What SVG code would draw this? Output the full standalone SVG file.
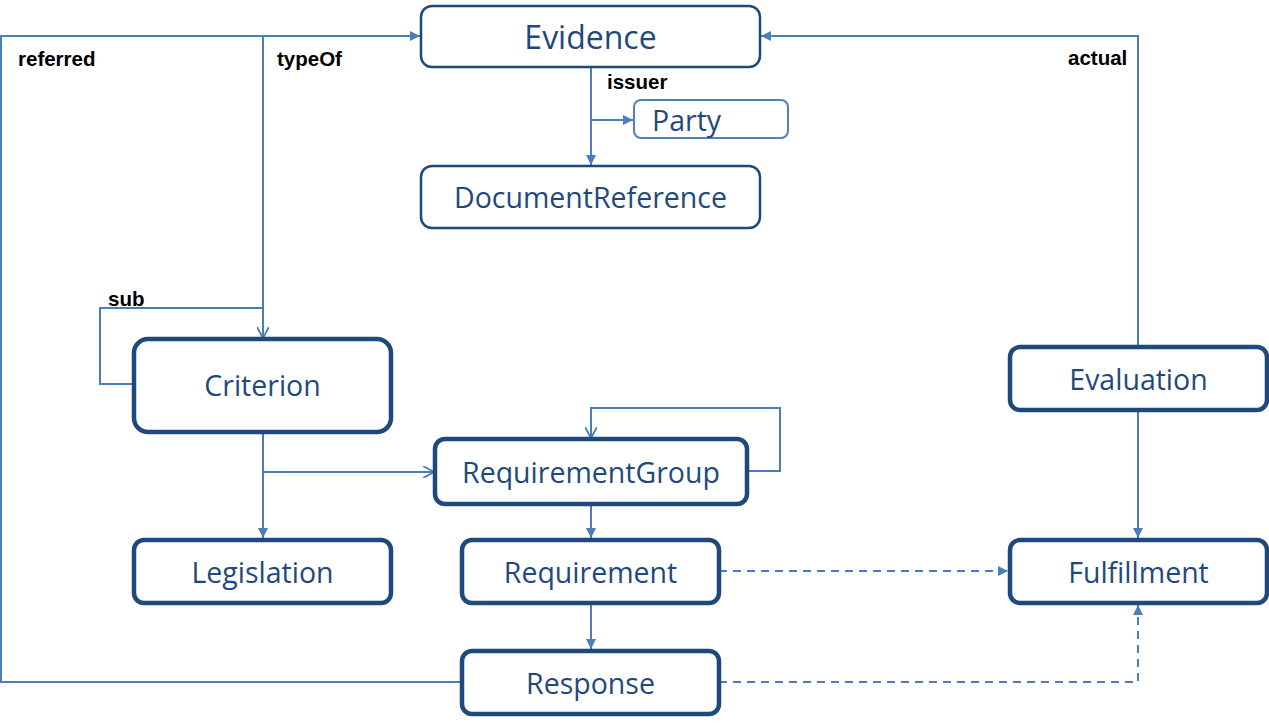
<svg xmlns="http://www.w3.org/2000/svg" width="1269" height="723" viewBox="0 0 1269 723">
<style>
.thin{fill:#fff;stroke:#1f497d;stroke-width:2.5}
.thick{fill:#fff;stroke:#1f497d;stroke-width:4.5}
.party{fill:#fff;stroke:#4f81bd;stroke-width:2}
.t{font-family:"Open Sans",sans-serif;font-size:28.5px;fill:#1f497d;text-anchor:middle}
.lbl{font-family:"Liberation Sans",Arial,sans-serif;font-size:20.5px;font-weight:bold;fill:#000}
.c{fill:none;stroke:#4a7ebb;stroke-width:2}
.d{stroke-dasharray:8 6}
</style>
<defs>
<marker id="fa" viewBox="0 0 10 10" refX="10" refY="5" markerWidth="10" markerHeight="10" markerUnits="userSpaceOnUse" orient="auto">
<path d="M0,0 L10,5 L0,10 Z" fill="#4a7ebb"/>
</marker>
<marker id="oa" viewBox="0 0 12 12" refX="11" refY="6" markerWidth="12" markerHeight="12" markerUnits="userSpaceOnUse" orient="auto">
<path d="M0,0 L11,6 L0,12" fill="none" stroke="#4a7ebb" stroke-width="1.8"/>
</marker>
</defs>
<g id="connectors">
<path class="c" d="M462,682 H1 V36 H420" marker-end="url(#fa)"/>
<path class="c" d="M263,36 V338" marker-end="url(#oa)"/>
<path class="c" d="M134,384 H100 V308 H263"/>
<path class="c" d="M263,432 V538" marker-end="url(#fa)"/>
<path class="c" d="M263,472 H434" marker-end="url(#oa)"/>
<path class="c" d="M747,471 H780 V408 H591 V438" marker-end="url(#oa)"/>
<path class="c" d="M591,504 V538" marker-end="url(#fa)"/>
<path class="c" d="M591,603 V649" marker-end="url(#fa)"/>
<path class="c d" d="M719,571 H1008" marker-end="url(#fa)"/>
<path class="c d" d="M719,682 H1138 V605" marker-end="url(#fa)"/>
<path class="c" d="M1138,410 V538" marker-end="url(#fa)"/>
<path class="c" d="M1138,347 V36 H761" marker-end="url(#fa)"/>
<path class="c" d="M591,67 V165" marker-end="url(#fa)"/>
<path class="c" d="M591,120 H633" marker-end="url(#fa)"/>
</g>
<g id="labels">
<text class="lbl" x="18" y="66">referred</text>
<text class="lbl" x="277" y="66">typeOf</text>
<text class="lbl" x="607" y="89">issuer</text>
<text class="lbl" x="1068" y="65">actual</text>
<text class="lbl" x="108" y="306">sub</text>
</g>
<g id="evidence"><rect class="thin" x="421" y="6" width="339" height="61" rx="11"/><text class="t" x="590.5" y="49" style="font-size:32px">Evidence</text></g>
<g id="party"><rect class="party" x="634" y="100" width="154" height="38" rx="7"/><text class="t" x="652" y="131" style="text-anchor:start">Party</text></g>
<g id="documentreference"><rect class="thin" x="421" y="166" width="339" height="62" rx="11"/><text class="t" x="590.5" y="208">DocumentReference</text></g>
<g id="criterion"><rect class="thick" x="134" y="339" width="257" height="93" rx="14"/><text class="t" x="262.5" y="396">Criterion</text></g>
<g id="legislation"><rect class="thick" x="134" y="540" width="257" height="63" rx="10"/><text class="t" x="262.5" y="583">Legislation</text></g>
<g id="requirementgroup"><rect class="thick" x="435" y="439" width="312" height="65" rx="10"/><text class="t" x="591" y="483">RequirementGroup</text></g>
<g id="requirement"><rect class="thick" x="462" y="540" width="257" height="63" rx="10"/><text class="t" x="590.5" y="583">Requirement</text></g>
<g id="response"><rect class="thick" x="462" y="651" width="257" height="63" rx="10"/><text class="t" x="590.5" y="694">Response</text></g>
<g id="evaluation"><rect class="thick" x="1010" y="347" width="257" height="63" rx="10"/><text class="t" x="1138.5" y="390">Evaluation</text></g>
<g id="fulfillment"><rect class="thick" x="1010" y="540" width="257" height="63" rx="10"/><text class="t" x="1138.5" y="583">Fulfillment</text></g>
</svg>
